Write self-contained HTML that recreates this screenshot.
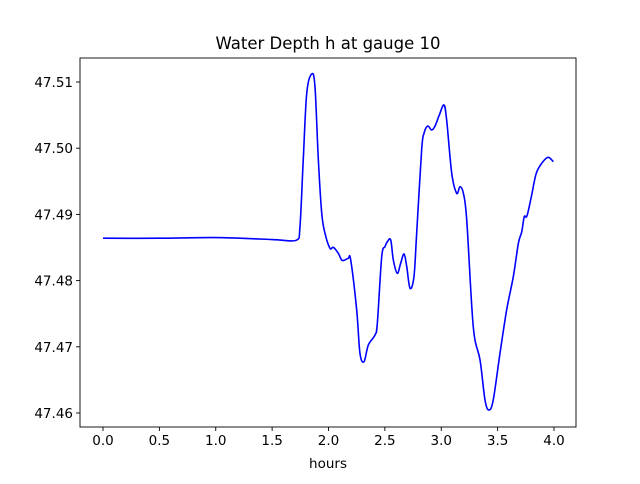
<!DOCTYPE html>
<html><head><meta charset="utf-8"><style>
body{margin:0;background:#fff;font-family:"DejaVu Sans","Liberation Sans",sans-serif;}
</style></head><body>
<svg width="640" height="480" viewBox="0 0 640 480" font-family="DejaVu Sans, Liberation Sans, sans-serif">
<rect width="640" height="480" fill="#fff"/>
<text x="328" y="49" font-size="16.5" text-anchor="middle">Water Depth h at gauge 10</text>
<g id="plot"></g>
<text x="328" y="468" font-size="13.5" text-anchor="middle">hours</text>
</svg>
<script>
const times=[0,0.5,1.0,1.5,1.570,1.718,1.747,1.776,1.807,1.851,1.880,1.910,1.940,1.969,2.013,2.043,2.087,2.117,2.146,2.176,2.197,2.250,2.279,2.315,2.353,2.412,2.433,2.472,2.501,2.522,2.552,2.575,2.610,2.640,2.670,2.694,2.723,2.758,2.782,2.826,2.847,2.880,2.915,2.945,2.983,3.024,3.048,3.093,3.137,3.166,3.196,3.226,3.284,3.344,3.388,3.423,3.461,3.521,3.580,3.639,3.684,3.714,3.736,3.760,3.799,3.843,3.902,3.950,3.994];
const depths=[47.4864,47.4864,47.4865,47.4862,47.48613,47.48613,47.48814,47.49822,47.50829,47.51121,47.50929,47.49822,47.49017,47.48714,47.48488,47.48503,47.48412,47.48311,47.48311,47.48337,47.48311,47.47556,47.46902,47.46775,47.47027,47.47178,47.47355,47.48361,47.48512,47.48588,47.48613,47.48311,47.4811,47.48261,47.48402,47.4821,47.47884,47.48059,47.48714,47.49973,47.50225,47.50335,47.50275,47.50335,47.50502,47.50653,47.50426,47.49621,47.49319,47.49418,47.49319,47.48915,47.47304,47.46801,47.46196,47.46045,47.46196,47.46902,47.47556,47.48059,47.48563,47.48739,47.48965,47.48976,47.49267,47.49621,47.49796,47.49863,47.49796];
const xTicks=[0,0.5,1.0,1.5,2.0,2.5,3.0,3.5,4.0];
const xTickLabels=["0.0","0.5","1.0","1.5","2.0","2.5","3.0","3.5","4.0"];
const yTicks=[47.46,47.47,47.48,47.49,47.50,47.51];
const yTickLabels=["47.46","47.47","47.48","47.49","47.50","47.51"];
const L=80,R=576,T=58,B=427;
const xs=t=>103+t*112.75;
const ys=h=>82+(47.51-h)*6620;
const NS="http://www.w3.org/2000/svg";
const g=document.getElementById('plot');
function mk(tag,attrs){const e=document.createElementNS(NS,tag);for(const k in attrs)e.setAttribute(k,attrs[k]);g.appendChild(e);return e;}
// line
const P=times.map((t,i)=>[xs(t),ys(depths[i])]);
let d="M"+P[0][0]+","+P[0][1];
for(let i=0;i<P.length-1;i++){const p0=P[i-1]||P[i],p1=P[i],p2=P[i+1],p3=P[i+2]||P[i+1];
const c1=[p1[0]+(p2[0]-p0[0])/6,p1[1]+(p2[1]-p0[1])/6],c2=[p2[0]-(p3[0]-p1[0])/6,p2[1]-(p3[1]-p1[1])/6];
d+=" C"+c1[0]+","+c1[1]+" "+c2[0]+","+c2[1]+" "+p2[0]+","+p2[1];}
const line=mk('path',{d:d,fill:'none',stroke:'#0000ff','stroke-width':1.6,'stroke-linejoin':'round'});


const fr=mk('rect',{x:L,y:T,width:R-L,height:B-T,fill:'none',stroke:'#000','stroke-width':0.9});


xTicks.forEach((v,i)=>{const x=xs(v);
const tk=mk('line',{x1:x,x2:x,y1:B,y2:B+4,stroke:'#000','stroke-width':0.9});


const tx=mk('text',{x:x,y:B+18,'font-size':13.5,'text-anchor':'middle'});tx.textContent=xTickLabels[i];

});
yTicks.forEach((v,i)=>{const y=ys(v);
const tk=mk('line',{x1:L-4,x2:L,y1:y,y2:y,stroke:'#000','stroke-width':0.9});


const tx=mk('text',{x:L-7,y:y+5,'font-size':13.5,'text-anchor':'end'});tx.textContent=yTickLabels[i];

});
</script>
</body></html>
